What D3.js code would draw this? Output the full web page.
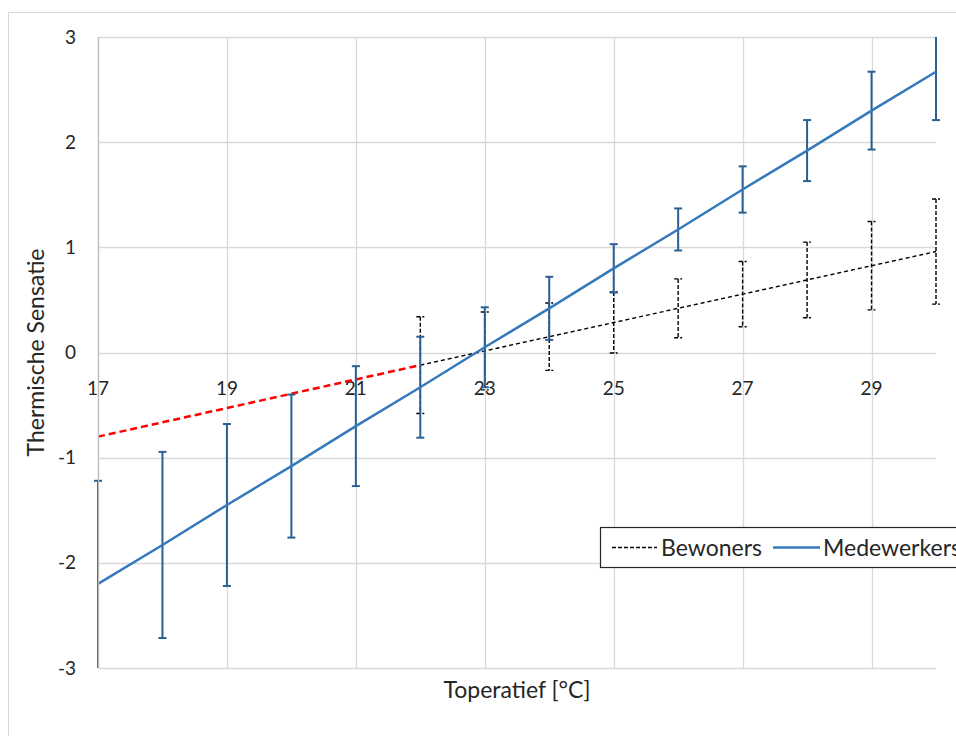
<!DOCTYPE html>
<html>
<head>
<meta charset="utf-8">
<script src="https://cdn.jsdelivr.net/npm/d3@7"></script>
<style>
  body { margin: 0; background: #fff; }
  text { font-family: Lato, "Open Sans", sans-serif; fill: #262626; }
</style>
</head>
<body>
<div id="chart"></div>
<script>
// temperaturen (x)
const temps = [17, 18, 19, 20, 21, 22, 23, 24, 25, 26, 27, 28, 29, 30];
// Medewerkers: trendlijn en foutmarges
const medewerkers = [-2.20, -1.83, -1.45, -1.08, -0.70, -0.33, 0.05, 0.42, 0.80, 1.17, 1.55, 1.92, 2.30, 2.67];
const medErr = [0.98, 0.885, 0.77, 0.68, 0.57, 0.48, 0.38, 0.30, 0.23, 0.20, 0.22, 0.29, 0.37, 0.46];
// Bewoners: alleen gemeten tussen 22 en 30
const bewTemps = [22, 23, 24, 25, 26, 27, 28, 29, 30];
const bewoners = [-0.12, 0.015, 0.15, 0.285, 0.42, 0.555, 0.69, 0.825, 0.96];
const bewErr = [0.46, 0.37, 0.32, 0.29, 0.28, 0.31, 0.36, 0.42, 0.50];
// extrapolatie Bewoners (rood)
const extraTemps = [17, 22];
const extraVals = [-0.80, -0.12];

const xTicks = [17, 19, 21, 23, 25, 27, 29];
const yTicks = [-3, -2, -1, 0, 1, 2, 3];

const width = 956, height = 736;

const svg = d3.select("#chart").append("svg")
  .attr("width", width)
  .attr("height", height);

// kader rond de grafiek
svg.append("rect")
  .attr("x", 8.5).attr("y", 12.5)
  .attr("width", 1000).attr("height", 800)
  .attr("fill", "none").attr("stroke", "#d9d9d9");

const x = d3.scaleLinear().domain([17, 30]).range([98, 936]);
const y = d3.scaleLinear().domain([-3, 3]).range([668, 37]);

// gridlijnen
svg.append("g").selectAll("line").data(yTicks).join("line")
  .attr("x1", x(17)).attr("x2", x(30))
  .attr("y1", d => Math.round(y(d)) + 0.5).attr("y2", d => Math.round(y(d)) + 0.5)
  .attr("stroke", "#d9d9d9").attr("stroke-width", 1.3);

svg.append("g").selectAll("line").data(xTicks).join("line")
  .attr("x1", d => Math.round(x(d)) + 0.5).attr("x2", d => Math.round(x(d)) + 0.5)
  .attr("y1", y(3)).attr("y2", y(-3))
  .attr("stroke", "#d9d9d9").attr("stroke-width", 1.3);

// y-as labels
svg.append("g").selectAll("text").data(yTicks).join("text")
  .attr("x", 76).attr("y", d => y(d))
  .attr("dy", "0.35em")
  .attr("text-anchor", "end")
  .attr("font-size", 19)
  .text(d => d);

// x-as labels (as kruist bij 0)
svg.append("g").selectAll("text").data(xTicks).join("text")
  .attr("x", d => x(d)).attr("y", y(0) + 42)
  .attr("text-anchor", "middle")
  .attr("font-size", 19)
  .text(d => d);

svg.append("clipPath").attr("id", "plot")
  .append("rect")
  .attr("x", x(17) - 10).attr("y", y(3))
  .attr("width", x(30) - x(17) + 20).attr("height", y(-3) - y(3));

const plot = svg.append("g").attr("clip-path", "url(#plot)");

const line = d3.line().x(d => x(d[0])).y(d => y(d[1]));

// rode extrapolatie
plot.append("path")
  .datum(extraTemps.map((t, i) => [t, extraVals[i]]))
  .attr("d", line)
  .attr("fill", "none").attr("stroke", "#ff0000")
  .attr("stroke-width", 2.5).attr("stroke-dasharray", "7,4");

// Bewoners foutbalken
const bew = bewTemps.map((t, i) => ({ t, v: bewoners[i], e: bewErr[i] }));
const capW = 4;
const bewBars = plot.append("g")
  .attr("stroke", "#000").attr("stroke-width", 1.4).attr("stroke-dasharray", "4,2");
bewBars.selectAll(".v").data(bew).join("line")
  .attr("x1", d => x(d.t)).attr("x2", d => x(d.t))
  .attr("y1", d => y(d.v + d.e)).attr("y2", d => y(d.v - d.e));
bewBars.selectAll(".top").data(bew).join("line")
  .attr("x1", d => x(d.t) - capW).attr("x2", d => x(d.t) + capW)
  .attr("y1", d => y(d.v + d.e)).attr("y2", d => y(d.v + d.e));
bewBars.selectAll(".bot").data(bew).join("line")
  .attr("x1", d => x(d.t) - capW).attr("x2", d => x(d.t) + capW)
  .attr("y1", d => y(d.v - d.e)).attr("y2", d => y(d.v - d.e));

// Bewoners lijn
plot.append("path")
  .datum(bew.map(d => [d.t, d.v]))
  .attr("d", line)
  .attr("fill", "none").attr("stroke", "#000")
  .attr("stroke-width", 1.4).attr("stroke-dasharray", "4,3");

// Medewerkers foutbalken
const med = temps.map((t, i) => ({ t, v: medewerkers[i], e: medErr[i] }));
const medBars = plot.append("g")
  .attr("stroke", "#2a5f94").attr("stroke-width", 2);
medBars.selectAll(".v").data(med).join("line")
  .attr("x1", d => x(d.t)).attr("x2", d => x(d.t))
  .attr("y1", d => y(d.v + d.e)).attr("y2", d => y(d.v - d.e));
medBars.selectAll(".top").data(med).join("line")
  .attr("x1", d => x(d.t) - capW).attr("x2", d => x(d.t) + capW)
  .attr("y1", d => y(d.v + d.e)).attr("y2", d => y(d.v + d.e));
medBars.selectAll(".bot").data(med).join("line")
  .attr("x1", d => x(d.t) - capW).attr("x2", d => x(d.t) + capW)
  .attr("y1", d => y(d.v - d.e)).attr("y2", d => y(d.v - d.e));

// Medewerkers lijn
plot.append("path")
  .datum(med.map(d => [d.t, d.v]))
  .attr("d", line)
  .attr("fill", "none").attr("stroke", "#3579bd")
  .attr("stroke-width", 2.5);

// linker as
svg.append("line")
  .attr("x1", x(17) + 0.5).attr("x2", x(17) + 0.5)
  .attr("y1", y(3)).attr("y2", y(-3))
  .attr("stroke", "#bfbfbf").attr("stroke-width", 1.3);

// astitels
svg.append("text")
  .attr("transform", `translate(44,${y(0)}) rotate(-90)`)
  .attr("text-anchor", "middle")
  .attr("font-size", 23)
  .text("Thermische Sensatie");

svg.append("text")
  .attr("x", 517).attr("y", 698)
  .attr("text-anchor", "middle")
  .attr("font-size", 23)
  .text("Toperatief [°C]");

// legenda
const lg = svg.append("g").attr("transform", "translate(600,527)");
lg.append("rect")
  .attr("x", 0.5).attr("y", 0.5).attr("width", 400).attr("height", 40)
  .attr("fill", "#fff").attr("stroke", "#262626").attr("stroke-width", 1.2);
lg.append("line")
  .attr("x1", 12).attr("x2", 57).attr("y1", 20.5).attr("y2", 20.5)
  .attr("stroke", "#000").attr("stroke-width", 1.4).attr("stroke-dasharray", "4,2");
lg.append("text").attr("x", 61).attr("y", 21).attr("dy", "0.35em")
  .attr("font-size", 23).text("Bewoners");
lg.append("line")
  .attr("x1", 173).attr("x2", 220).attr("y1", 20.5).attr("y2", 20.5)
  .attr("stroke", "#3579bd").attr("stroke-width", 2.5);
lg.append("text").attr("x", 223).attr("y", 21).attr("dy", "0.35em")
  .attr("font-size", 23).text("Medewerkers");
</script>
</body>
</html>
